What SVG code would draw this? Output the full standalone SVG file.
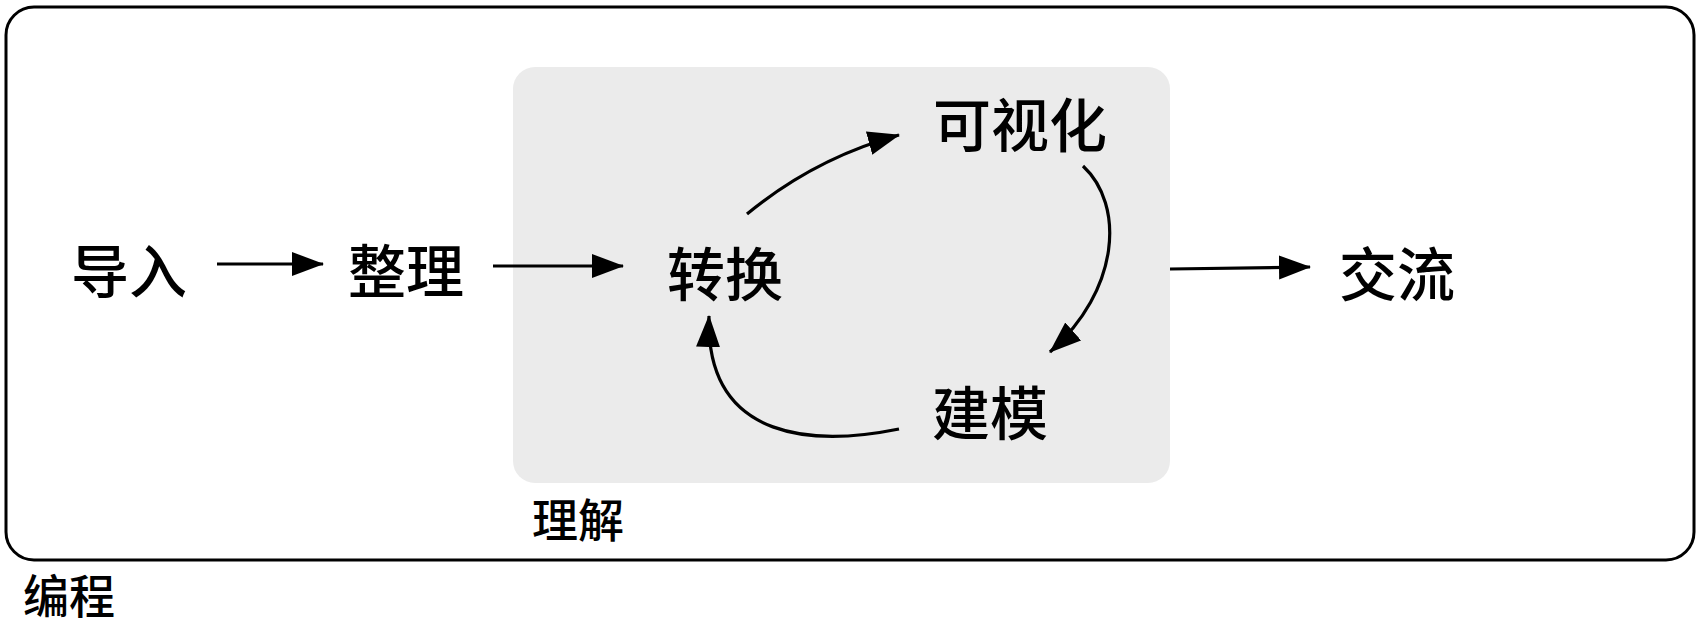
<svg xmlns="http://www.w3.org/2000/svg" width="1698" height="624" viewBox="0 0 1698 624">
<style>
.lbl{font-family:"Noto Sans CJK SC","Noto Sans",sans-serif;font-size:58px;font-weight:500;fill:#000;text-anchor:middle;dominant-baseline:central}
.grp{font-family:"Noto Sans CJK SC","Noto Sans",sans-serif;font-size:46px;font-weight:500;fill:#000;text-anchor:middle;dominant-baseline:central}
.edge{fill:none;stroke:#000;stroke-width:3.2;marker-end:url(#ah)}
</style>
<defs>
<marker id="ah" markerUnits="userSpaceOnUse" markerWidth="34" markerHeight="26" refX="31" refY="12" orient="auto">
<path d="M0,0 L32,12 L0,24 z" fill="#000"/>
</marker>
</defs>
<rect width="1698" height="624" fill="#fff"/>
<g id="programming">
<rect x="6" y="7" width="1688" height="553" rx="28" fill="#fff" stroke="#000" stroke-width="3"/>
<text class="grp" x="69" y="593">编程</text>
</g>
<g id="understand">
<rect x="513" y="67" width="657" height="416" rx="22" fill="#ebebeb"/>
<text class="grp" x="578" y="517">理解</text>
</g>
<g id="import"><text class="lbl" x="129" y="268">导入</text></g>
<g id="tidy"><text class="lbl" x="406" y="268">整理</text></g>
<g id="transform"><text class="lbl" x="725" y="271">转换</text></g>
<g id="visualize"><text class="lbl" x="1020" y="122">可视化</text></g>
<g id="model"><text class="lbl" x="990" y="410">建模</text></g>
<g id="communicate"><text class="lbl" x="1397" y="271">交流</text></g>
<g id="connectors">
<path class="edge" d="M217,264 L323,264"/>
<path class="edge" d="M493,266 L623,266"/>
<path class="edge" d="M1170,269 L1310,267"/>
<path class="edge" d="M747,214 Q815,158 899,135"/>
<path class="edge" d="M1083,166 C1125,205 1120,290 1050,352"/>
<path class="edge" d="M899,429 C820,445 705,445 709,316"/>
</g>
</svg>
